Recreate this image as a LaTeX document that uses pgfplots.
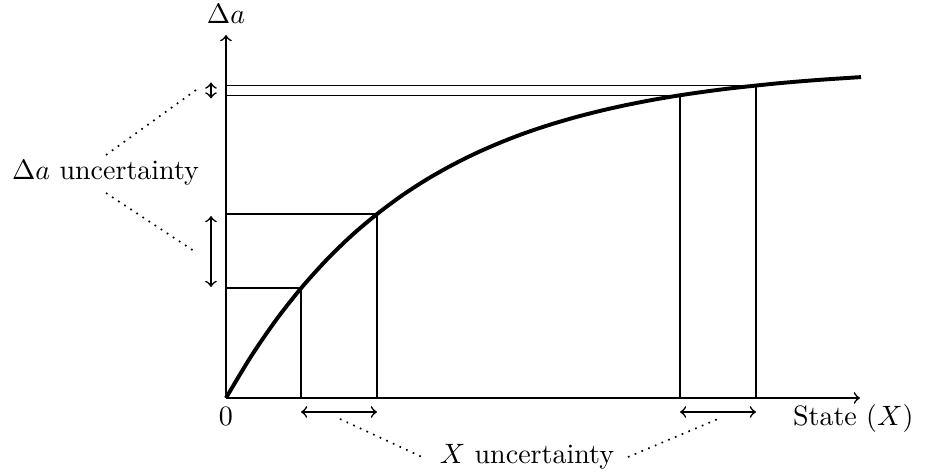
\documentclass[border=0pt]{standalone}
\usepackage{pgfplots}
\pgfplotsset{compat=1.18}
\begin{document}
\begin{tikzpicture}[every node/.style={inner sep=0pt}]
\begin{axis}[
  x=0.357pt, y=0.357pt,
  xmin=0, xmax=634, ymin=0, ymax=363,
  axis lines=left,
  axis line style={semithick},
  x axis line style={-to},
  y axis line style={-to},
  ticks=none,
  clip=false]
% response curve
\addplot[line width=1.4pt, smooth] coordinates {
  (0,0) (25,41.5) (50,77.9) (75,109.7) (100,137.5) (125,161.9) (150,183.1)
  (175,201.8) (200,218.1) (225,232.3) (250,244.8) (275,255.7) (300,265.3)
  (325,273.6) (350,280.9) (375,287.3) (400,292.9) (425,297.8) (450,302.1)
  (475,305.8) (500,309.1) (525,311.9) (550,314.5) (575,316.7) (600,318.6)
  (635,320.9)};
% guide lines
\addplot[semithick] coordinates {(0,110) (75,110) (75,0)};
\addplot[semithick] coordinates {(0,184) (151,184) (151,0)};
\addplot[semithick] coordinates {(0,302.5) (454,302.5) (454,0)};
\addplot[semithick] coordinates {(0,312.5) (530,312.5) (530,0)};
% uncertainty arrows
\draw[semithick,<->] (axis cs:-15,299.5) -- (axis cs:-15,315.5);
\draw[semithick,<->] (axis cs:-15,111) -- (axis cs:-15,182);
\draw[semithick,<->] (axis cs:75,-14) -- (axis cs:151,-14);
\draw[semithick,<->] (axis cs:454,-14) -- (axis cs:530,-14);
% dotted leaders
\draw[dotted, semithick] (axis cs:-120,243) -- (axis cs:-30,308);
\draw[dotted, semithick] (axis cs:-120,205) -- (axis cs:-32,147);
\draw[dotted, semithick] (axis cs:114,-21) -- (axis cs:196,-59);
\draw[dotted, semithick] (axis cs:402,-59) -- (axis cs:492,-21);
% labels
\node[anchor=base] at (axis cs:0,374) {$\Delta a$};
\node[anchor=base] at (axis cs:0,-28) {0};
\node[anchor=base east] at (axis cs:688,-28) {State $(X)$};
\node[anchor=base] at (axis cs:301,-66) {$X$ uncertainty};
\node[anchor=base] at (axis cs:-120.5,218) {$\Delta a$ uncertainty};
% frame of the picture
\path (axis cs:-226,-76) rectangle (axis cs:699,398);
\end{axis}
\end{tikzpicture}
\end{document}
